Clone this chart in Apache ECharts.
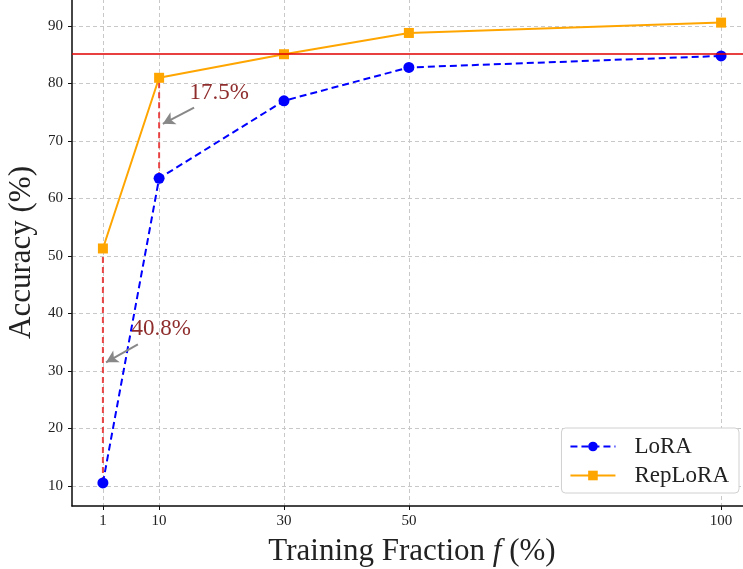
<!DOCTYPE html>
<html>
<head>
<meta charset="utf-8">
<script src="https://cdn.jsdelivr.net/npm/echarts@6/dist/echarts.min.js"></script>
<style>
html,body{margin:0;padding:0;background:#fff;}
#c{width:743px;height:569px;}
</style>
</head>
<body>
<div id="c"></div>
<script>
// Data
const fractions = [1, 10, 30, 50, 100];
const loraAcc = [10.5, 63.5, 77.0, 82.8, 84.8];
const repLoraAcc = [51.3, 81.0, 85.1, 88.8, 90.6];
const xTicks = [1, 10, 30, 50, 100];
const yTicks = [10, 20, 30, 40, 50, 60, 70, 80, 90];
const refLine = 85.1;
const annotations = [
  {label: '40.8%', text: [5.5, 37.3], tail: [6.6, 34.6], tip: [1.5, 31.5]},
  {label: '17.5%', text: [14.8, 78.4], tail: [15.6, 75.8], tip: [10.6, 73.0]}
];
const gapIndices = [0, 1];

const FONT = 'Liberation Serif';
const chart = echarts.init(document.getElementById('c'), null, {renderer: 'canvas'});

const gapSeries = gapIndices.map(i => ({
  type: 'line',
  name: 'gap' + i,
  data: [[fractions[i], loraAcc[i]], [fractions[i], repLoraAcc[i]]],
  symbol: 'none',
  silent: true,
  z: 1,
  lineStyle: {color: 'rgba(230,40,40,0.85)', width: 2, type: [6, 4]}
}));

const option = {
  animation: false,
  backgroundColor: '#fff',
  grid: {left: 72, right: -9, top: -1, bottom: 63, show: true, borderColor: '#d0d0d0', borderWidth: 1,
         containLabel: false, outerBoundsMode: 'none'},
  xAxis: {
    type: 'value', min: -3.95, max: 104.95,
    axisLine: {show: true, onZero: false, lineStyle: {color: '#111', width: 1.5}},
    axisTick: {show: true, length: 4, lineStyle: {color: '#111', width: 1}, customValues: xTicks},
    axisLabel: {customValues: xTicks, fontFamily: FONT, fontSize: 15, color: '#222', margin: 8},
    splitLine: {show: true, lineStyle: {color: '#c8c8c8', type: [4, 3], width: 1}},
    name: '{n|Training Fraction }{i|f}{n| (%)}',
    nameLocation: 'middle', nameGap: 30,
    nameTextStyle: {
      rich: {
        n: {fontFamily: FONT, fontSize: 31, color: '#222'},
        i: {fontFamily: FONT, fontSize: 31, fontStyle: 'italic', color: '#222'}
      }
    }
  },
  yAxis: {
    type: 'value', min: 6.49, max: 94.71,
    axisLine: {show: true, onZero: false, lineStyle: {color: '#111', width: 1.5}},
    axisTick: {show: true, length: 4, lineStyle: {color: '#111', width: 1}, customValues: yTicks},
    axisLabel: {customValues: yTicks, fontFamily: FONT, fontSize: 15, color: '#222', margin: 9},
    splitLine: {show: true, lineStyle: {color: '#c8c8c8', type: [4, 3], width: 1}},
    name: 'Accuracy (%)', nameLocation: 'middle', nameGap: 33,
    nameTextStyle: {fontFamily: FONT, fontSize: 31, color: '#222'}
  },
  legend: {
    data: ['LoRA', 'RepLoRA'],
    orient: 'vertical', right: 4, bottom: 76,
    itemWidth: 45, itemHeight: 12, itemGap: 6,
    backgroundColor: '#fff', borderColor: '#d0d0d0', borderWidth: 1, borderRadius: 4,
    padding: [7, 10, 6, 8],
    textStyle: {fontFamily: FONT, fontSize: 23, color: '#222', padding: [0, 0, 0, 14]}
  },
  series: [
    ...gapSeries,
    {
      type: 'line', name: 'LoRA',
      data: fractions.map((x, i) => [x, loraAcc[i]]),
      symbol: 'circle', symbolSize: 11, z: 3,
      itemStyle: {color: '#0000ff'},
      lineStyle: {color: '#0000ff', width: 2, type: [7, 4]},
      markLine: {
        silent: true, symbol: ['none', 'none'], label: {show: false},
        lineStyle: {color: '#e00000', width: 1.5, type: 'solid'},
        data: [{yAxis: refLine}]
      }
    },
    {
      type: 'line', name: 'RepLoRA',
      data: fractions.map((x, i) => [x, repLoraAcc[i]]),
      symbol: 'rect', symbolSize: 10, z: 2,
      itemStyle: {color: '#ffa500'},
      lineStyle: {color: '#ffa500', width: 2, type: 'solid'},
      markLine: {
        silent: true, symbol: ['none', 'arrow'], symbolSize: [10, 12],
        label: {show: false},
        lineStyle: {color: '#888', width: 2, type: 'solid'},
        data: annotations.map(a => [{coord: a.tail}, {coord: a.tip}])
      }
    },
    {
      type: 'scatter', name: 'annot', silent: true, z: 5,
      symbolSize: 1, itemStyle: {color: 'rgba(0,0,0,0)', opacity: 1},
      data: annotations.map(a => ({value: a.text, label: {show: true, formatter: a.label}})),
      label: {show: true, position: 'right', distance: 0, fontFamily: FONT, fontSize: 23, color: '#8f2d2d'}
    }
  ]
};
chart.setOption(option);
</script>
</body>
</html>
